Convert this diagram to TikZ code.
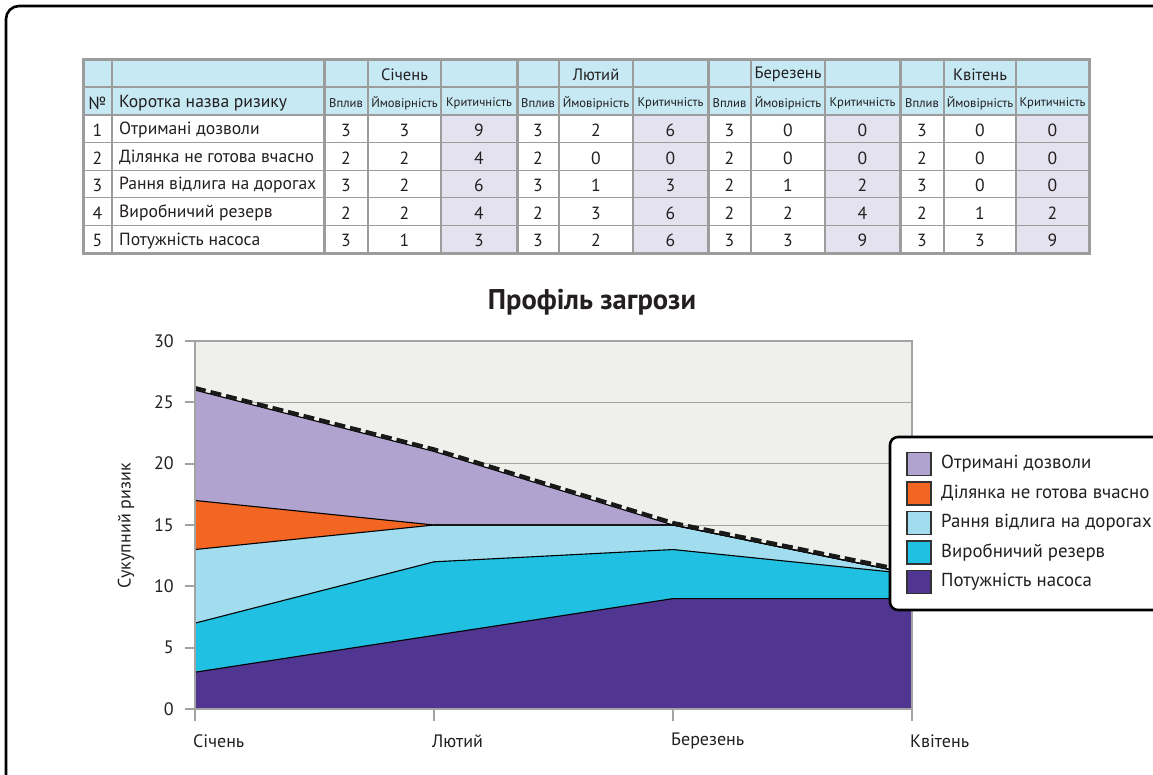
\documentclass[tikz,border=0pt]{standalone}
\usepackage{fontspec}
\setmainfont{PT Sans}
\definecolor{ink}{HTML}{231F20}
\definecolor{hdrblue}{HTML}{C6E9F4}
\definecolor{critcell}{HTML}{E5E2EF}
\definecolor{tblgrid}{HTML}{9C9C9C}
\definecolor{plotbg}{HTML}{EFF0EB}
\definecolor{axisgray}{HTML}{A3A3A3}
\definecolor{permit}{HTML}{B0A3D0}
\definecolor{site}{HTML}{F26522}
\definecolor{thaw}{HTML}{A1DCEF}
\definecolor{reserve}{HTML}{1FC0E2}
\definecolor{pump}{HTML}{503591}
\begin{document}
\begin{tikzpicture}[x=1pt,y=-1pt,
  every node/.style={text=ink,inner sep=0pt},
  tbltext/.style={font=\fontsize{17.6}{20}\selectfont,yshift=-1.5pt},
  tblmonth/.style={font=\fontsize{16.5}{19}\selectfont,yshift=-1.5pt},
  tblsmall/.style={font=\fontsize{12.6}{14}\selectfont,yshift=-1pt},
  tblthin/.style={draw=tblgrid,line width=1.1pt},
  tblthick/.style={draw=tblgrid,line width=3pt},
  axislabel/.style={font=\fontsize{18}{21}\selectfont},
  gridline/.style={draw=axisgray,line width=1pt},
  layerline/.style={draw=black,line width=1.1pt,line join=round},
  legendtext/.style={font=\fontsize{18.8}{22}\selectfont,anchor=west},
  legendbox/.style={draw=black!80,line width=1.4pt},
  trend/.style={draw=black!90,line width=4.2pt,dash pattern=on 11pt off 5pt}]
\useasboundingbox (0,0) rectangle (1153,774);
\begin{scope}
\clip (0,0) rectangle (1153,774);
\fill[white] (0,0) rectangle (1153,774);

% ---------- outer frame ----------
\draw[line width=2.6pt,rounded corners=13pt] (6,6) rectangle (1200,820);

% ---------- risk table ----------
\fill[hdrblue] (83,59) rectangle (1089,115);
\fill[white] (83,115) rectangle (1089,253);
\foreach \a/\b in {441/517,633/708,825/900,1016/1089}
  \fill[critcell] (\a,115) rectangle (\b,253);
\foreach \y in {87,115,142.6,170.2,197.8,225.4}
  \draw[tblthin] (83,\y) -- (1089,\y);
\foreach \x in {112,368,441,559,633,751,825,944,1016}
  \draw[tblthin] (\x,59) -- (\x,253);
\foreach \x in {324,517,708,900}
  \draw[tblthick] (\x,59) -- (\x,253);
\draw[tblthick] (83,59) rectangle (1089,253);

% month names
\foreach \cx/\m [count=\k] in {404.5/Січень,596/Лютий,788/Березень,980/Квітень}
  \node[tblmonth] (month\k) at (\cx,73) {\m};
% column headings
\node[tbltext] (hno) at (97.5,101.5) {№};
\node[tbltext,anchor=west] (hname) at (119,101.5) {Коротка назва ризику};
\foreach \cx/\h [count=\k] in {346/Вплив,404.5/Ймовірність,479/Критичність,
    538/Вплив,596/Ймовірність,670.5/Критичність,
    729.5/Вплив,788/Ймовірність,862.5/Критичність,
    922/Вплив,980/Ймовірність,1052.5/Критичність}
  \node[tblsmall] (head\k) at (\cx,102.5) {\h};
% data rows
\foreach \ry/\nm/\vals [count=\i] in {
    128.8/{Отримані дозволи}/{3,3,9,3,2,6,3,0,0,3,0,0},
    156.4/{Ділянка не готова вчасно}/{2,2,4,2,0,0,2,0,0,2,0,0},
    184.0/{Рання відлига на дорогах}/{3,2,6,3,1,3,2,1,2,3,0,0},
    211.6/{Виробничий резерв}/{2,2,4,2,3,6,2,2,4,2,1,2},
    239.2/{Потужність насоса}/{3,1,3,3,2,6,3,3,9,3,3,9}} {
  \node[tbltext] (no\i) at (97.5,\ry) {\i};
  \node[tbltext,anchor=west] (name\i) at (119,\ry) {\nm};
  \foreach \v [count=\j] in \vals {
    \pgfmathsetmacro\cx{{346,404.5,479,538,596,670.5,729.5,788,862.5,922,980,1052.5}[\j-1]}
    \node[tbltext] (val\i-\j) at (\cx,\ry) {\v};
  }
}

% ---------- chart ----------
\node[font=\bfseries\fontsize{28.5}{32}\selectfont] (title) at (592,302) {Профіль загрози};
\node[axislabel,rotate=90] (ytitle) at (126,526) {Сукупний ризик};

\begin{scope}[shift={(195,709)},x=239pt,y=12.267pt]
  \fill[plotbg] (0,0) rectangle (3,30);
  \foreach \v in {5,10,...,25}
    \draw[gridline] (0,\v) -- (3,\v);
  % stacked layers, top layer first
  \fill[permit]  (0,0) -- (0,26) -- (1,21) -- (2,15) -- (3,11) -- (3,0) -- cycle;
  \fill[site]    (0,0) -- (0,17) -- (1,15) -- (2,15) -- (3,11) -- (3,0) -- cycle;
  \fill[thaw]    (0,0) -- (0,13) -- (1,15) -- (2,15) -- (3,11) -- (3,0) -- cycle;
  \fill[reserve] (0,0) -- (0,7)  -- (1,12) -- (2,13) -- (3,11) -- (3,0) -- cycle;
  \fill[pump]    (0,0) -- (0,3)  -- (1,6)  -- (2,9)  -- (3,9)  -- (3,0) -- cycle;
  \draw[layerline] (0,26) -- (1,21) -- (2,15) -- (3,11);
  \draw[layerline] (0,17) -- (1,15) -- (2,15) -- (3,11);
  \draw[layerline] (0,13) -- (1,15) -- (2,15) -- (3,11);
  \draw[layerline] (0,7)  -- (1,12) -- (2,13) -- (3,11);
  \draw[layerline] (0,3)  -- (1,6)  -- (2,9)  -- (3,9);
  \draw[trend] ([yshift=2pt]0,26) -- ([yshift=2pt]1,21) -- ([yshift=2pt]2,15) -- ([yshift=2pt]3,11);
  % plot frame and ticks
  \draw[draw=axisgray,line width=2pt] (0,0) rectangle (3,30);
  \foreach \v in {0,5,...,30} {
    \draw[draw=axisgray,line width=2pt] (0,\v) -- ++(-10pt,0);
    \node[axislabel,anchor=east] (ylab\v) at ([xshift=-21pt]0,\v) {\v};
  }
  \foreach \m [count=\k from 0] in {Січень,Лютий,Березень,Квітень} {
    \draw[draw=axisgray,line width=2pt] (\k,0) -- ++(0,-12pt);
    \node[axislabel,anchor=west] (xlab\k) at ([xshift=-2pt,yshift=-32pt]\k,0) {\m};
  }
\end{scope}

% ---------- legend ----------
\draw[fill=white,line width=2.6pt,rounded corners=8pt] (890,437) rectangle (1200,610);
\foreach \c/\t/\y [count=\k] in {permit/{Отримані дозволи}/464,
    site/{Ділянка не готова вчасно}/493.5,
    thaw/{Рання відлига на дорогах}/523,
    reserve/{Виробничий резерв}/552.5,
    pump/{Потужність насоса}/582} {
  \draw[legendbox,fill=\c] (907,\y-11.5) rectangle (931,\y+11.5);
  \node[legendtext] (leg\k) at (941,\y) {\t};
}
\end{scope}
\end{tikzpicture}
\end{document}
